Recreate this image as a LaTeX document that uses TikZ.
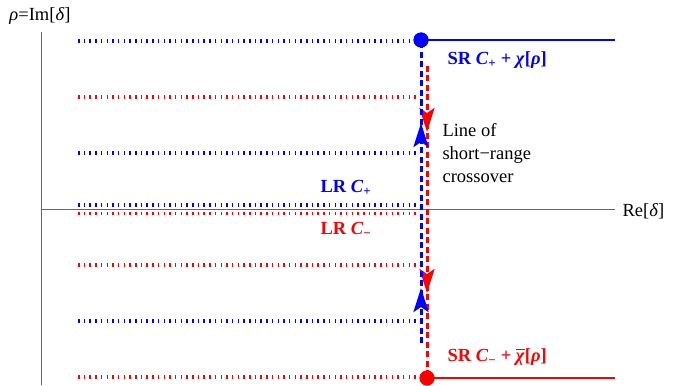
\documentclass[tikz,border=0pt]{standalone}
\usepackage{fontspec}
\setmainfont{Liberation Serif}
\usetikzlibrary{arrows.meta,decorations.markings}

\begin{document}
\begin{tikzpicture}[x=1pt,y=-1pt,font=\fontsize{18.5}{23}\selectfont,
                    >={Stealth[length=24pt,width=15pt,inset=5pt]}]
            \tikzstyle{axis}=[black!60, line width=1pt]
            \tikzstyle{lrblue}=[blue, line width=3.2pt, dash pattern=on 1.5pt off 4.2pt]
            \tikzstyle{lrred}=[red, line width=3.2pt, dash pattern=on 1.5pt off 4.2pt]
            \tikzstyle{crossblue}=[blue, line width=3pt, dash pattern=on 6pt off 3.5pt]
            \tikzstyle{crossred}=[red, line width=3pt, dash pattern=on 6pt off 3.5pt]
            \tikzstyle{enddot}=[circle, inner sep=0pt, minimum size=15pt]
            \useasboundingbox (0,0) rectangle (676,385);
            % axes
            \draw[axis] (41,32) -- (41,385);
            \draw[axis] (41,209) -- (615,209);
            \node (imlabel) at (40,16) {\textit{ρ}=Im[\textit{δ}]};
            \node[anchor=west] (relabel) at (619,211) {Re[\textit{δ}]};
            % long-range branches
            \foreach \y in {41,153,321} \draw[lrblue] (78,\y) -- (418,\y);
            \foreach \y in {97,265,377} \draw[lrred] (78,\y) -- (418,\y);
            \draw[lrblue] (78,205) -- (418,205);
            \draw[lrred] (78,213.5) -- (418,213.5);
            % short-range end points
            \node[enddot, fill=blue] (bdot) at (421,40) {};
            \node[enddot, fill=red] (rdot) at (427,378) {};
            \coordinate (bend) at (421,343);
            \coordinate (rtop) at (427,66);
            \coordinate (bright) at (615,40);
            \coordinate (rright) at (615,378);
            \draw[blue, line width=2.5pt] (bdot.center) -- (bright);
            \draw[red, line width=2.5pt] (rdot.center) -- (rright);
            % line of short-range crossover
            \draw[crossred, postaction={decorate}, decoration={markings,
                mark=at position 66pt with {\arrow{>}},
                mark=at position 227pt with {\arrow{>}}}] (rtop) -- (rdot.center);
            \draw[crossblue, postaction={decorate}, decoration={markings,
                mark=at position 55pt with {\arrow{>}},
                mark=at position 220pt with {\arrow{>}}}] (bend) -- (bdot.center);
            \node[enddot, fill=blue] at (bdot) {};
            \node[enddot, fill=red] at (rdot) {};
            % labels
            \node[blue, anchor=west, font=\fontsize{18.5}{23}\selectfont\bfseries] (srplus) at (444,60)
                {SR \textit{C}\textsubscript{+} + \textit{χ}[\textit{ρ}]};
            \node[red, anchor=west, font=\fontsize{18.5}{23}\selectfont\bfseries] (srminus) at (444,357)
                {SR \textit{C}\textsubscript{−} + $\overline{\mbox{\textit{χ}}\vphantom{C}}$[\textit{ρ}]};
            \node[blue, font=\fontsize{18.5}{23}\selectfont\bfseries] (lrplus) at (346,188) {LR \textit{C}\textsubscript{+}};
            \node[red, font=\fontsize{18.5}{23}\selectfont\bfseries] (lrminus) at (346,230) {LR \textit{C}\textsubscript{−}};
            \node[anchor=west, align=left] (crossover) at (439,153) {Line of\\short−range\\crossover};
        \end{tikzpicture}
\end{document}
